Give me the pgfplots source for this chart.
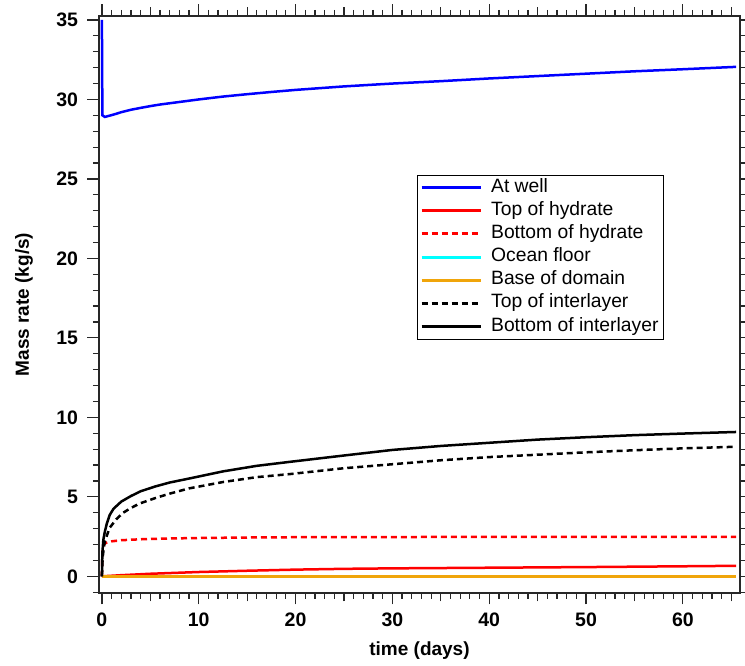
\documentclass[border=0pt]{standalone}
\usepackage{pgfplots}
\pgfplotsset{compat=1.18}
\usepackage{fontspec}
\setmainfont{Liberation Sans}

\definecolor{wellblue}{RGB}{0,0,255}
\definecolor{hydred}{RGB}{255,0,0}
\definecolor{oceancyan}{RGB}{0,255,255}
\definecolor{baseorange}{RGB}{240,165,10}
\definecolor{axisgray}{RGB}{40,40,40}

\begin{document}
\begin{tikzpicture}
\useasboundingbox (-99pt,-73pt) rectangle (646pt,593pt);
\begin{axis}[
  at={(0pt,0pt)}, anchor=south west,
  scale only axis, width=641pt, height=577pt,
  xmin=-0.3, xmax=65.9, ymin=-1.05, ymax=35.25,
  axis line style={axisgray, line width=1.3pt},
  every tick/.style={axisgray, line width=1.2pt},
  tick align=outside,
  major tick length=11.5pt, minor tick length=6pt,
  xtick={0,10,...,60}, ytick={0,5,...,35},
  minor xtick={1,2,...,65}, minor ytick={-1,0,...,35},
  extra x ticks={5,15,...,65}, extra x tick labels={},
  extra x tick style={major tick length=8.5pt, grid=none},
  /pgf/number format/assume math mode=true,
  tick label style={font=\fontsize{19.5}{19.5}\selectfont\bfseries},
  xticklabel style={yshift=-5pt},
  yticklabel style={xshift=-6pt},
  xlabel={time (days)}, ylabel={Mass rate (kg/s)},
  label style={font=\fontsize{19}{19}\selectfont\bfseries},
  xlabel style={at={(axis description cs:0.5,-0.1005)}, anchor=center},
  ylabel style={at={(axis description cs:-0.117,0.5)}, anchor=center, rotate=0},
  legend image code/.code={\draw[#1,line width=3pt,line cap=butt] (0pt,0pt) -- (59pt,0pt);},
  legend cell align=left,
  legend style={at={(axis description cs:0.496,0.7245)}, anchor=north west,
    draw=black, inner xsep=3pt, inner ysep=1pt,
    font=\fontsize{19.3}{19.3}\selectfont,
    nodes={inner xsep=2pt, inner ysep=2.3pt, text height=14pt, text depth=4.5pt},
    /tikz/every odd column/.append style={column sep=7pt},
    row sep=0pt},
  every axis plot/.append style={line width=2.5pt},
]
\addplot[wellblue] coordinates {
 (0,35) (0.05,29.0) (0.3,28.9) (0.8,28.98) (1.5,29.1) (2,29.2) (3,29.35)
 (4,29.47) (5,29.58) (6,29.68) (7.5,29.8) (9,29.92) (10,30.0) (12.5,30.18)
 (15,30.33) (17.5,30.47) (20,30.6) (25,30.82) (30,31.0) (35,31.15)
 (40,31.32) (45,31.47) (50,31.62) (55,31.77) (60,31.9) (65.5,32.05)};
\addlegendentry{At well}
\addplot[hydred] coordinates {
 (0,0) (2,0.07) (5,0.16) (10,0.27) (15,0.35) (20,0.42) (25,0.47) (30,0.5)
 (40,0.54) (50,0.58) (60,0.63) (65.5,0.66)};
\addlegendentry{Top of hydrate}
\addplot[hydred, dash pattern=on 6pt off 4pt] coordinates {
 (0,0) (0.05,1.5) (0.15,1.95) (0.4,2.1) (1,2.2) (2,2.27) (4,2.33) (7,2.38)
 (10,2.41) (15,2.44) (20,2.46) (30,2.47) (40,2.48) (50,2.48) (65.5,2.48)};
\addlegendentry{Bottom of hydrate}
\addplot[oceancyan] coordinates {(0,0) (65.5,0)};
\addlegendentry{Ocean floor}
\addplot[baseorange] coordinates {(0,0) (65.5,0)};
\addlegendentry{Base of domain}
\addplot[black, dash pattern=on 6pt off 4pt] coordinates {
 (0,0) (0.08,1.2) (0.2,1.8) (0.3,2.2) (0.8,3.05) (1.5,3.6) (2.2,4.0) (3,4.3)
 (3.9,4.58) (5.6,4.94) (7,5.2) (9,5.53) (12.5,5.93) (16,6.24) (19.4,6.43)
 (25,6.8) (30,7.05) (35,7.3) (40,7.5) (45,7.65) (50,7.8) (55,7.93) (60,8.05)
 (65.5,8.15)};
\addlegendentry{Top of interlayer}
\addplot[black] coordinates {
 (0,0) (0.05,1.5) (0.15,2.3) (0.3,2.8) (0.5,3.3) (0.8,3.85) (1.2,4.25)
 (2,4.7) (3,5.05) (4,5.35) (5.5,5.65) (7,5.9) (9,6.15) (12.5,6.6) (16,6.95)
 (19.4,7.2) (25,7.6) (30,7.95) (35,8.2) (40,8.4) (45,8.6) (50,8.75) (55,8.88)
 (60,8.98) (65.5,9.08)};
\addlegendentry{Bottom of interlayer}
\end{axis}
\end{tikzpicture}
\end{document}
